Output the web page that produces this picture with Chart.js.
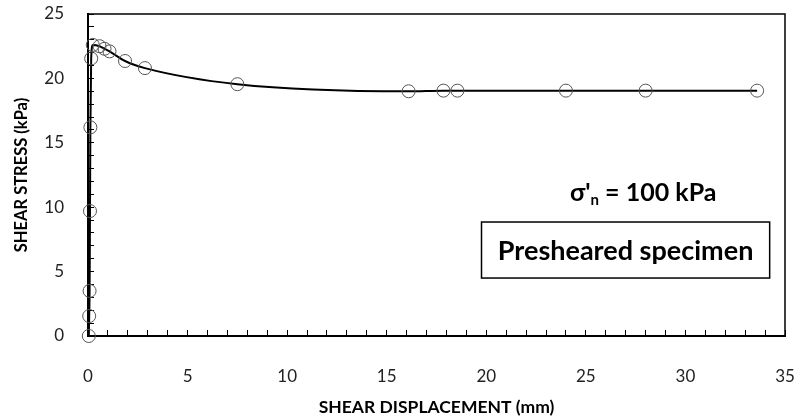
<!DOCTYPE html>
<html lang="en">
  <head>
    <meta charset="UTF-8" />
    <title>Shear stress vs displacement</title>
    <script src="https://cdn.jsdelivr.net/npm/chart.js"></script>
    <style>
      html, body { margin: 0; padding: 0; background: #fff; }
      #wrap { width: 798px; height: 419px; }
    </style>
  </head>
  <body>
    <div id="wrap"><canvas id="shearChart"></canvas></div>
    <script>
      // values
      const displacement = [0.04, 0.06, 0.08, 0.1, 0.12, 0.16, 0.24, 0.58, 0.83, 1.08, 1.86, 2.86, 7.5, 16.1, 17.85, 18.55, 24.0, 28.0, 33.6];
      const shearStress = [0, 1.55, 3.5, 9.7, 16.2, 21.55, 22.6, 22.5, 22.3, 22.1, 21.35, 20.8, 19.55, 19.0, 19.05, 19.05, 19.05, 19.05, 19.05];
      const xTickLabels = [0, 5, 10, 15, 20, 25, 30, 35];
      const yTickLabels = [0, 5, 10, 15, 20, 25];

      const points = displacement.map((x, i) => ({ x: x, y: shearStress[i] }));
      const font = "Lato, 'Open Sans', sans-serif";

      // frame + text boxes
      const extras = {
        id: "extras",
        afterDraw(chart) {
          const { ctx, chartArea, scales } = chart;
          const xs = scales.x, ys = scales.y;
          ctx.save();
          ctx.strokeStyle = "#000";
          ctx.lineWidth = 1.5;
          ctx.beginPath();
          ctx.moveTo(chartArea.left, chartArea.top);
          ctx.lineTo(chartArea.right, chartArea.top);
          ctx.lineTo(chartArea.right, chartArea.bottom);
          ctx.stroke();

          // sigma'n = 100 kPa
          ctx.fillStyle = "#000";
          ctx.textBaseline = "middle";
          ctx.textAlign = "left";
          let tx = xs.getPixelForValue(24.2);
          const ty = ys.getPixelForValue(11.1);
          ctx.font = "bold 25px " + font;
          ctx.fillText("σ'", tx, ty);
          tx += ctx.measureText("σ'").width;
          ctx.font = "bold 15px " + font;
          ctx.fillText("n", tx, ty + 7);
          tx += ctx.measureText("n").width;
          ctx.font = "bold 25px " + font;
          ctx.fillText(" = 100 kPa", tx, ty);

          // boxed label
          const bx1 = xs.getPixelForValue(19.76), bx2 = xs.getPixelForValue(34.23);
          const by1 = ys.getPixelForValue(8.85), by2 = ys.getPixelForValue(4.5);
          ctx.lineWidth = 1.5;
          ctx.strokeRect(bx1, by1, bx2 - bx1, by2 - by1);
          ctx.textAlign = "center";
          ctx.font = "bold 27px " + font;
          ctx.fillText("Presheared specimen", (bx1 + bx2) / 2, (by1 + by2) / 2 + 1);
          ctx.restore();
        },
      };

      new Chart(document.getElementById("shearChart"), {
        type: "scatter",
        data: {
          datasets: [
            {
              data: points,
              showLine: true,
              borderColor: "#000",
              borderWidth: 2,
              cubicInterpolationMode: "monotone",
              pointStyle: "circle",
              pointRadius: 6.5,
              pointBorderColor: "#555",
              pointBackgroundColor: "rgba(0,0,0,0)",
              pointBorderWidth: 1,
              clip: false,
            },
          ],
        },
        options: {
          responsive: true,
          maintainAspectRatio: false,
          animation: false,
          layout: { padding: { top: 14, right: 13, left: 0, bottom: 0 } },
          plugins: { legend: { display: false }, tooltip: { enabled: false } },
          scales: {
            x: {
              type: "linear",
              min: 0,
              max: 35,
              afterFit: (s) => {
                s.height = 83;
                s.paddingLeft = 0;
                s.paddingRight = 0;
              },
              afterBuildTicks: (s) => {
                const t = [];
                for (let v = 0; v <= 35; v++) t.push({ value: v });
                s.ticks = t;
              },
              border: { color: "#000", width: 2 },
              grid: { drawOnChartArea: false, tickLength: -6, color: "#000", tickWidth: 1 },
              ticks: {
                autoSkip: false,
                maxRotation: 0,
                padding: 36,
                color: "#222",
                font: { family: font, size: 17 },
                callback: (v) => (xTickLabels.includes(v) ? String(v) : ""),
              },
              title: {
                display: true,
                text: "SHEAR DISPLACEMENT (mm)",
                color: "#000",
                font: { family: font, size: 17.5, weight: "bold" },
                padding: { top: 0, bottom: 1 },
              },
            },
            y: {
              type: "linear",
              min: 0,
              max: 25,
              afterFit: (s) => {
                s.width = 88;
                s.paddingTop = 0;
                s.paddingBottom = 0;
              },
              afterBuildTicks: (s) => {
                const t = [];
                for (let v = 0; v <= 25; v++) t.push({ value: v });
                s.ticks = t;
              },
              border: { color: "#000", width: 2 },
              grid: { drawOnChartArea: false, tickLength: -6, color: "#000", tickWidth: 1 },
              ticks: {
                autoSkip: false,
                padding: 30,
                color: "#222",
                font: { family: font, size: 17 },
                callback: (v) => (yTickLabels.includes(v) ? String(v) : ""),
              },
              title: {
                display: true,
                text: "SHEAR STRESS (kPa)",
                color: "#000",
                font: { family: font, size: 16.5, weight: "bold" },
                padding: { top: 12, bottom: 0 },
              },
            },
          },
        },
        plugins: [extras],
      });
    </script>
  </body>
</html>
